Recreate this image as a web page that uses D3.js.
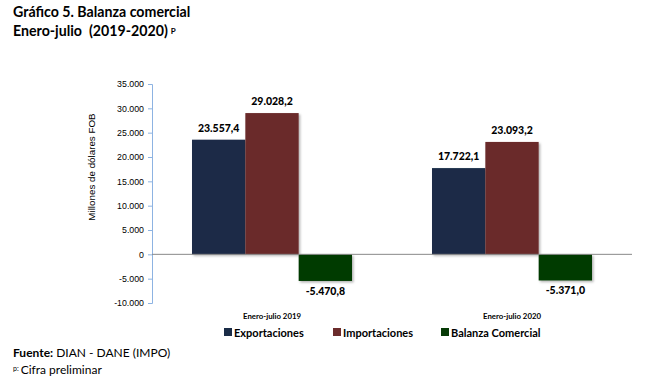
<!DOCTYPE html>
<html><head><meta charset="utf-8">
<script src="https://cdn.jsdelivr.net/npm/d3@7"></script>
<style>body{margin:0;background:#fff}svg{display:block}</style>
</head><body>
<svg id="c" width="650" height="390"></svg>
<script>
const categories = ["Enero-julio 2019", "Enero-julio 2020"];
const seriesNames = ["Exportaciones", "Importaciones", "Balanza Comercial"];
const exportaciones = [23557.4, 17722.1];
const importaciones = [29028.2, 23093.2];
const balanza = [-5470.8, -5371.0];
const valueLabels = [["23.557,4", "29.028,2", "-5.470,8"], ["17.722,1", "23.093,2", "-5.371,0"]];
const yTicks = [-10000, -5000, 0, 5000, 10000, 15000, 20000, 25000, 30000, 35000];
const yTickLabels = ["-10.000", "-5.000", "0", "5.000", "10.000", "15.000", "20.000", "25.000", "30.000", "35.000"];
const colors = ["#1a2c47", "#6b2c2c", "#063a06"];

const svg = d3.select("#c");
const font = "Lato, 'Open Sans', sans-serif";
const plotLeft = 152, plotRight = 632, plotTop = 84, plotBottom = 303;

const x0 = d3.scaleBand().domain(categories).range([plotLeft, plotRight]).paddingInner(0).paddingOuter(0);
const y = d3.scaleLinear().domain([-10000, 35000]).range([plotBottom, plotTop]);
const x1 = d3.scaleBand().domain(seriesNames).range([0, x0.bandwidth() * 2 / 3]);

const defs = svg.append("defs");
const f = defs.append("filter").attr("id", "sh").attr("x", "-10%").attr("y", "-10%").attr("width", "130%").attr("height", "130%");
f.append("feDropShadow").attr("dx", 1.5).attr("dy", 1.5).attr("stdDeviation", 1).attr("flood-color", "#000").attr("flood-opacity", 0.3);

svg.append("text").attr("x", 13).attr("y", 17).attr("font-family", font).attr("font-weight", "bold").attr("font-size", 14.2).attr("fill", "#000").text("Gráfico 5. Balanza comercial");
const t2 = svg.append("text").attr("x", 13).attr("y", 36).attr("font-family", font).attr("font-weight", "bold").attr("font-size", 14.2).attr("fill", "#000");
t2.append("tspan").attr("xml:space", "preserve").text("Enero-julio  (2019-2020)");
t2.append("tspan").attr("font-size", 8).attr("dx", 3).attr("dy", -2).text("P");

const yAxis = d3.axisLeft(y).tickValues(yTicks).tickFormat((d, i) => yTickLabels[i]).tickSize(4).tickPadding(4);
const ga = svg.append("g").attr("transform", `translate(${plotLeft},0)`).call(yAxis);
ga.select(".domain").attr("stroke", "#8db3e2");
ga.selectAll(".tick line").attr("stroke", "#8db3e2");
ga.selectAll(".tick text").attr("font-family", "'Liberation Sans', Arial, sans-serif").attr("font-size", 8.8).attr("fill", "#000");

svg.append("text").attr("transform", `translate(95,167) rotate(-90)`).attr("text-anchor", "middle")
  .attr("font-family", "'Liberation Sans', Arial, sans-serif").attr("font-size", 9.8).attr("fill", "#000").text("Millones de dólares FOB");

const data = categories.map((c, i) => ({ c, vals: [exportaciones[i], importaciones[i], balanza[i]] }));
const groups = svg.append("g").selectAll("g").data(data).join("g")
  .attr("transform", d => `translate(${x0(d.c) + x0.bandwidth() / 6},0)`);
groups.selectAll("rect").data(d => d.vals.map((v, j) => ({ v, s: seriesNames[j], j }))).join("rect")
  .attr("x", d => x1(d.s)).attr("width", x1.bandwidth())
  .attr("y", d => y(Math.max(0, d.v))).attr("height", d => Math.abs(y(d.v) - y(0)))
  .attr("fill", d => colors[d.j]).attr("filter", "url(#sh)");

svg.append("line").attr("x1", plotLeft).attr("x2", plotRight).attr("y1", y(0)).attr("y2", y(0)).attr("stroke", "#888").attr("stroke-width", 1);

groups.selectAll("text.v").data((d, i) => d.vals.map((v, j) => ({ v, s: seriesNames[j], lab: valueLabels[i][j] }))).join("text")
  .attr("class", "v")
  .attr("x", d => x1(d.s) + x1.bandwidth() / 2)
  .attr("y", d => d.v >= 0 ? y(d.v) - 8 : y(d.v) + 14)
  .attr("text-anchor", "middle").attr("font-family", font).attr("font-weight", "900").attr("font-size", 10.5).attr("fill", "#000")
  .text(d => d.lab);

svg.append("g").selectAll("text").data(categories).join("text")
  .attr("x", d => x0(d) + x0.bandwidth() / 2).attr("y", 319).attr("text-anchor", "middle")
  .attr("font-family", font).attr("font-weight", "bold").attr("font-size", 7.8).attr("fill", "#000").text(d => d);

const legX = [224, 333, 441];
const lg = svg.append("g").selectAll("g").data(seriesNames).join("g").attr("transform", (d, i) => `translate(${legX[i]},328)`);
lg.append("rect").attr("width", 8).attr("height", 8).attr("y", 0).attr("fill", (d, i) => colors[i]);
lg.append("text").attr("x", 10).attr("y", 8.5).attr("font-family", font).attr("font-weight", "bold").attr("font-size", 11).attr("fill", "#000").text(d => d);

const ft = svg.append("text").attr("x", 13).attr("y", 357).attr("font-family", font).attr("font-size", 12).attr("fill", "#000");
ft.append("tspan").attr("font-weight", "bold").text("Fuente:");
ft.append("tspan").text(" DIAN - DANE (IMPO)");
const f2 = svg.append("text").attr("x", 13).attr("y", 374).attr("font-family", font).attr("font-size", 12).attr("fill", "#000");
f2.append("tspan").attr("font-size", 7).attr("dy", -3).text("p:");
f2.append("tspan").attr("dy", 3).attr("dx", 2).text("Cifra preliminar");
</script>
</body></html>
